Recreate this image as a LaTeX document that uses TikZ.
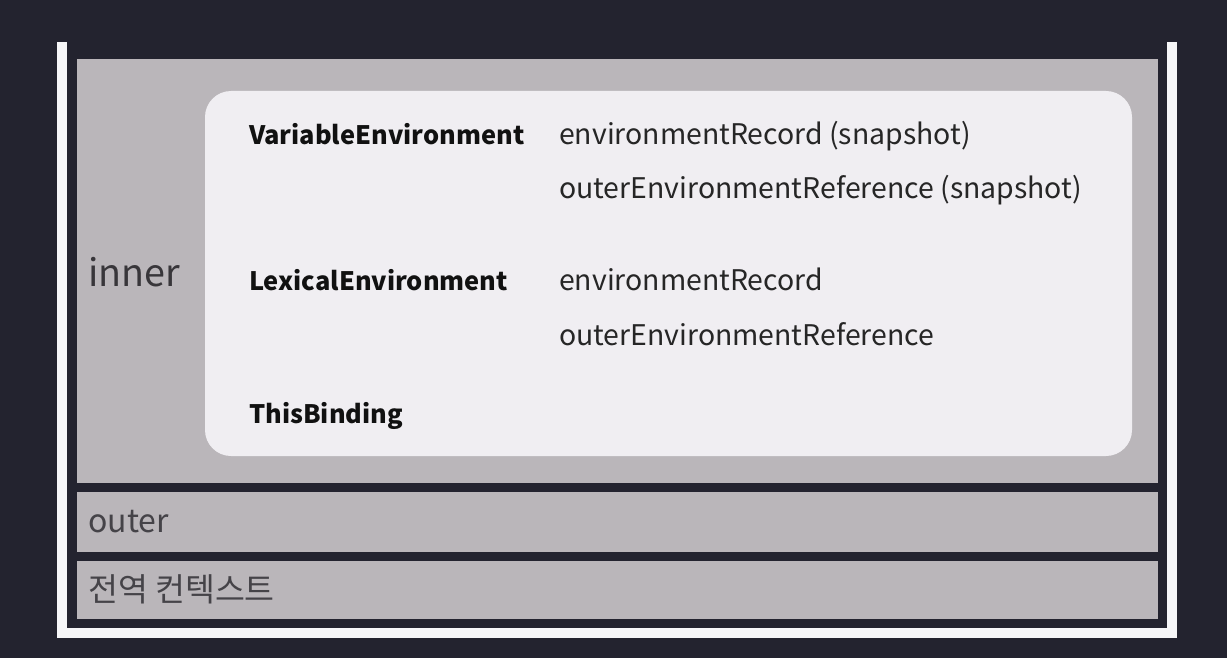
\documentclass[tikz,border=0pt]{standalone}
\usepackage{fontspec}
\setmainfont{Noto Sans CJK KR}
\definecolor{bg}{HTML}{23232F}
\definecolor{panel}{HTML}{BAB6BA}
\definecolor{card}{HTML}{F0EEF2}
\definecolor{frame}{HTML}{F6F6F8}
\definecolor{keytxt}{HTML}{111111}
\definecolor{valtxt}{HTML}{262626}
\definecolor{lbltxt}{HTML}{454348}
\definecolor{innertxt}{HTML}{38363A}
\tikzset{
  keyn/.style={anchor=base west, inner sep=0pt, font=\fontsize{25.4}{30}\selectfont\bfseries, text=keytxt},
  valn/.style={anchor=base west, inner sep=0pt, font=\fontsize{28.4}{32}\selectfont, text=valtxt},
  lbl/.style={anchor=base west, inner sep=0pt, text=lbltxt},
}
\begin{document}
\begin{tikzpicture}[x=1pt,y=-1pt]
\fill[bg] (0,0) rectangle (1227,658);
\useasboundingbox (0,0) rectangle (1227,658);
% white U frame
\fill[frame] (57,42) rectangle (67,638);
\fill[frame] (1167,42) rectangle (1177,638);
\fill[frame] (57,628) rectangle (1177,638);
% panels
\fill[panel] (77,59) rectangle (1158,483);
\fill[panel] (77,492) rectangle (1158,552);
\fill[panel] (77,561) rectangle (1158,619);
% card
\fill[card, rounded corners=26pt] (205,91) rectangle (1132,456);
% labels
\node[lbl, text=innertxt, font=\fontsize{37.7}{42}\selectfont] (inner) at (88,286) {inner};
\node[lbl, font=\fontsize{32}{36}\selectfont] (outer) at (88,532) {outer};
\node[lbl, font=\fontsize{32.5}{36}\selectfont] (global) at (88,601) {전역 컨텍스트};
% keys
\node[keyn] (ve) at (249,145) {VariableEnvironment};
\node[keyn] (le) at (249,290) {LexicalEnvironment};
\node[keyn] (tb) at (249,423) {ThisBinding};
% values
\node[valn] (ver) at (559,145) {environmentRecord (snapshot)};
\node[valn] (veo) at (559,199) {outerEnvironmentReference (snapshot)};
\node[valn] (ler) at (559,290) {environmentRecord};
\node[valn] (leo) at (559,345) {outerEnvironmentReference};
\end{tikzpicture}
\end{document}
